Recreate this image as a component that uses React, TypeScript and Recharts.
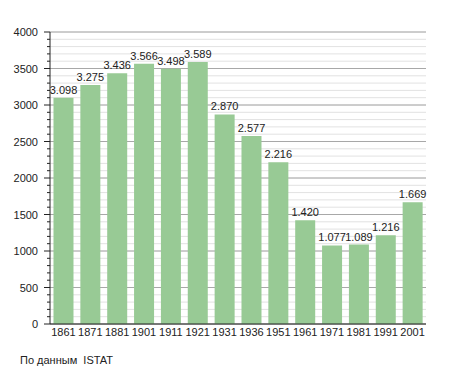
import React from "react";
import { BarChart, Bar, XAxis, YAxis, CartesianGrid, LabelList } from "recharts";

const years = ["1861", "1871", "1881", "1901", "1911", "1921", "1931", "1936", "1951", "1961", "1971", "1981", "1991", "2001"];
const population = [3098, 3275, 3436, 3566, 3498, 3589, 2870, 2577, 2216, 1420, 1077, 1089, 1216, 1669];
const majorTicks = [0, 500, 1000, 1500, 2000, 2500, 3000, 3500, 4000];
const minorTicks = [
  0, 100, 200, 300, 400, 500, 600, 700, 800, 900, 1000, 1100, 1200, 1300, 1400, 1500, 1600, 1700, 1800, 1900,
  2000, 2100, 2200, 2300, 2400, 2500, 2600, 2700, 2800, 2900, 3000, 3100, 3200, 3300, 3400, 3500, 3600, 3700, 3800, 3900, 4000,
];
const caption = "По данным  ISTAT";

const data = years.map((y, i) => ({ year: y, value: population[i] }));

const fmt = (v: number) => {
  const s = String(v);
  return s.length > 3 ? s.slice(0, s.length - 3) + "." + s.slice(-3) : s;
};

const FONT = "'Liberation Sans', Arial, sans-serif";

const YTick = (props: any) => {
  const { x, y, payload } = props;
  const major = payload.value % 500 === 0;
  return (
    <g>
      <line x1={x - (major ? 6 : 3)} x2={x} y1={y} y2={y} stroke="#222" strokeWidth={1} />
      {major && (
        <text x={x - 12} y={y} dy={4} textAnchor="end" fontSize={11} fill="#222" fontFamily={FONT}>
          {payload.value}
        </text>
      )}
    </g>
  );
};

export default function App() {
  return (
    <div style={{ position: "absolute", left: 0, top: 0, width: 455, height: 373, background: "#fff" }}>
      <BarChart
        width={455}
        height={373}
        data={data}
        margin={{ top: 32, right: 29, bottom: 29, left: 0 }}
        barCategoryGap="13%"
      >
        <CartesianGrid vertical={false} horizontalValues={minorTicks} stroke="#e2e2e2" strokeWidth={1} />
        <CartesianGrid vertical={false} horizontalValues={majorTicks} stroke="#a8a8a8" strokeWidth={1} />
        <XAxis
          dataKey="year"
          tickLine={false}
          tickSize={0}
          tickMargin={4}
          height={20}
          axisLine={{ stroke: "#222" }}
          tick={{ fontSize: 11, fill: "#222", fontFamily: FONT }}
          interval={0}
        />
        <YAxis
          domain={[0, 4000]}
          ticks={minorTicks}
          interval={0}
          width={50}
          tickLine={false}
          tickSize={0}
          tickMargin={0}
          axisLine={{ stroke: "#222" }}
          tick={<YTick />}
        />
        <Bar dataKey="value" fill="#98ca95" isAnimationActive={false}>
          <LabelList
            dataKey="value"
            position="top"
            offset={4}
            formatter={(v: any) => fmt(v)}
            style={{ fontSize: 11, fill: "#222", fontFamily: FONT }}
          />
        </Bar>
      </BarChart>
      <div
        style={{
          position: "absolute",
          left: 20,
          top: 354,
          fontSize: 11,
          fontFamily: FONT,
          color: "#222",
          whiteSpace: "pre",
        }}
      >
        {caption}
      </div>
    </div>
  );
}
